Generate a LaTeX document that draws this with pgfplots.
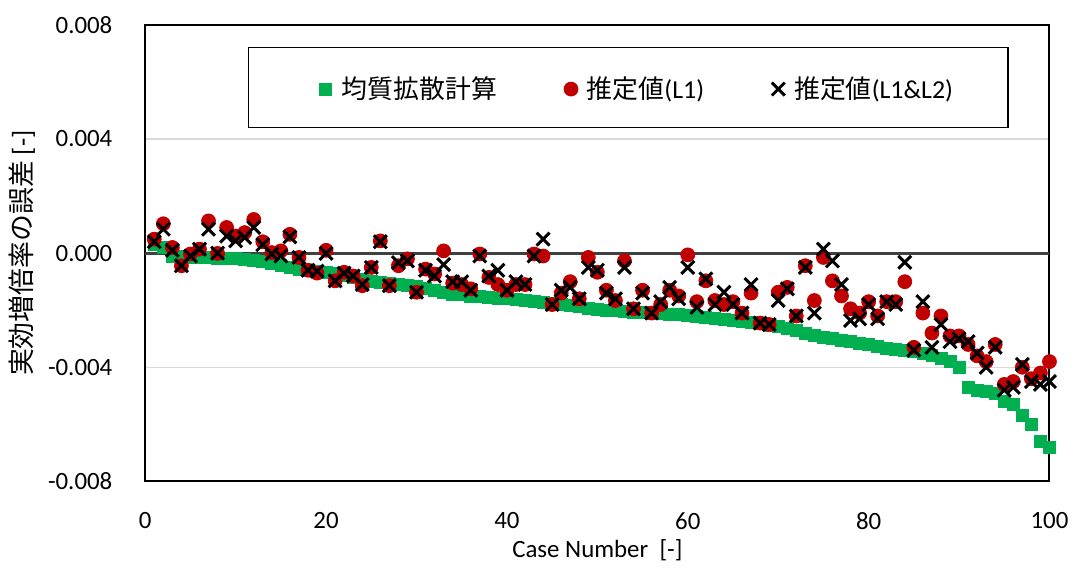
\documentclass[border=0pt]{standalone}
\usepackage{fontspec}
\setmainfont{Carlito}
\newfontfamily\cjk{Noto Sans CJK JP}
\usepackage{pgfplots}
\usepackage{pgfplotstable}
\pgfplotsset{compat=1.18}

\definecolor{homgreen}{HTML}{00B050}
\definecolor{estred}{HTML}{C00000}
\definecolor{gridgray}{HTML}{D9D9D9}
\definecolor{zerogray}{HTML}{404040}

% Case number, homogenised diffusion result, estimate from L1, estimate from L1&L2
\pgfplotstableread{
n hom l1 l12
1 0.00030 0.00049 0.00040
2 0.00020 0.00103 0.00084
3 -0.00010 0.00020 0.00010
4 -0.00012 -0.00044 -0.00044
5 -0.00014 -0.00003 -0.00010
6 -0.00015 0.00014 0.00014
7 -0.00016 0.00113 0.00084
8 -0.00018 -0.00001 0.00000
9 -0.00019 0.00090 0.00060
10 -0.00020 0.00060 0.00043
11 -0.00022 0.00072 0.00055
12 -0.00025 0.00118 0.00090
13 -0.00030 0.00040 0.00030
14 -0.00035 0.00002 -0.00003
15 -0.00042 0.00008 -0.00010
16 -0.00050 0.00066 0.00057
17 -0.00056 -0.00015 -0.00015
18 -0.00060 -0.00060 -0.00060
19 -0.00064 -0.00070 -0.00063
20 -0.00068 0.00010 -0.00001
21 -0.00072 -0.00097 -0.00097
22 -0.00078 -0.00067 -0.00070
23 -0.00085 -0.00080 -0.00080
24 -0.00092 -0.00114 -0.00110
25 -0.00098 -0.00050 -0.00050
26 -0.00102 0.00043 0.00040
27 -0.00106 -0.00114 -0.00114
28 -0.00110 -0.00044 -0.00033
29 -0.00114 -0.00020 -0.00027
30 -0.00118 -0.00137 -0.00137
31 -0.00125 -0.00056 -0.00060
32 -0.00132 -0.00073 -0.00080
33 -0.00138 0.00008 -0.00040
34 -0.00143 -0.00105 -0.00100
35 -0.00146 -0.00110 -0.00100
36 -0.00150 -0.00125 -0.00130
37 -0.00153 -0.00003 -0.00010
38 -0.00156 -0.00085 -0.00080
39 -0.00158 -0.00110 -0.00060
40 -0.00160 -0.00130 -0.00130
41 -0.00163 -0.00110 -0.00100
42 -0.00167 -0.00110 -0.00110
43 -0.00170 -0.00003 -0.00010
44 -0.00173 -0.00010 0.00049
45 -0.00176 -0.00180 -0.00180
46 -0.00180 -0.00140 -0.00130
47 -0.00184 -0.00100 -0.00120
48 -0.00188 -0.00160 -0.00160
49 -0.00192 -0.00015 -0.00050
50 -0.00196 -0.00067 -0.00060
51 -0.00200 -0.00130 -0.00140
52 -0.00202 -0.00166 -0.00160
53 -0.00204 -0.00027 -0.00050
54 -0.00206 -0.00195 -0.00195
55 -0.00208 -0.00130 -0.00140
56 -0.00210 -0.00210 -0.00210
57 -0.00212 -0.00180 -0.00170
58 -0.00214 -0.00130 -0.00120
59 -0.00216 -0.00150 -0.00160
60 -0.00218 -0.00006 -0.00050
61 -0.00221 -0.00170 -0.00190
62 -0.00224 -0.00097 -0.00090
63 -0.00228 -0.00166 -0.00180
64 -0.00232 -0.00180 -0.00137
65 -0.00236 -0.00170 -0.00180
66 -0.00240 -0.00210 -0.00210
67 -0.00244 -0.00140 -0.00110
68 -0.00248 -0.00245 -0.00245
69 -0.00252 -0.00250 -0.00250
70 -0.00258 -0.00137 -0.00166
71 -0.00265 -0.00120 -0.00125
72 -0.00272 -0.00220 -0.00220
73 -0.00280 -0.00044 -0.00050
74 -0.00288 -0.00166 -0.00210
75 -0.00295 -0.00015 0.00014
76 -0.00300 -0.00097 -0.00027
77 -0.00305 -0.00150 -0.00110
78 -0.00310 -0.00195 -0.00236
79 -0.00316 -0.00210 -0.00230
80 -0.00320 -0.00170 -0.00180
81 -0.00328 -0.00220 -0.00230
82 -0.00333 -0.00170 -0.00170
83 -0.00337 -0.00170 -0.00180
84 -0.00340 -0.00100 -0.00032
85 -0.00346 -0.00330 -0.00340
86 -0.00350 -0.00210 -0.00170
87 -0.00358 -0.00280 -0.00330
88 -0.00370 -0.00220 -0.00250
89 -0.00380 -0.00290 -0.00310
90 -0.00400 -0.00290 -0.00300
91 -0.00470 -0.00320 -0.00310
92 -0.00480 -0.00360 -0.00350
93 -0.00485 -0.00380 -0.00400
94 -0.00490 -0.00320 -0.00330
95 -0.00520 -0.00460 -0.00480
96 -0.00530 -0.00450 -0.00470
97 -0.00570 -0.00400 -0.00390
98 -0.00600 -0.00440 -0.00450
99 -0.00660 -0.00420 -0.00460
100 -0.00680 -0.00380 -0.00450
}\errortable

\begin{document}
\begin{tikzpicture}
\begin{axis}[
  scale only axis,
  width=454.5pt, height=229.5pt,
  xmin=0, xmax=100, ymin=-0.008, ymax=0.008,
  xtick={0,20,...,100},
  ytick={-0.008,-0.004,0,0.004,0.008},
  scaled y ticks=false,
  /pgf/number format/assume math mode=true,
  yticklabel style={/pgf/number format/fixed,
    /pgf/number format/fixed zerofill,
    /pgf/number format/precision=3, xshift=-13pt},
  xticklabel style={yshift=-12pt},
  tick label style={font=\fontsize{12.5}{15}\selectfont, text=black},
  major tick length=0pt,
  ymajorgrids,
  grid style={draw=gridgray, line width=0.6pt},
  axis line style={line width=1pt, black},
  xlabel={Case Number\ \ [-]},
  xlabel style={at={(axis description cs:0.5,-0.150)}, anchor=center,
    font=\fontsize{12.5}{15}\selectfont},
  ylabel={{\cjk 実効増倍率の誤差} [-]},
  ylabel style={at={(axis description cs:-0.1364,0.5)}, anchor=center,
    rotate=0, font=\fontsize{13.5}{16}\selectfont},
  legend columns=3,
  legend style={at={(axis cs:18.33,0.00575)}, anchor=west,
    draw=none, fill=none,
    font=\fontsize{13}{16}\selectfont,
    /tikz/every even column/.append style={column sep=31pt}},
  legend image code/.code={%
    \path[draw=none, fill=none] (0cm,0cm) -- (0.36cm,0cm);
    \draw[mark repeat=2,mark phase=2,#1]
      plot coordinates {(0cm,0cm)(0.15cm,0cm)(0.36cm,0cm)};},
]
  % zero reference line
  \draw[zerogray, line width=1.6pt] (axis cs:0,0) -- (axis cs:100,0);
  % legend frame
  \draw[black, line width=0.8pt, fill=white]
    (axis cs:11.44,0.00441) rectangle (axis cs:95.4,0.0072);

  \addplot[only marks, mark=square*, mark size=3pt,
    mark options={draw=homgreen, fill=homgreen}]
    table[x=n, y=hom] {\errortable};
  \addlegendentry{\cjk 均質拡散計算}

  \addplot[only marks, mark=*, mark size=3.5pt,
    mark options={draw=estred, fill=estred}]
    table[x=n, y=l1] {\errortable};
  \addlegendentry{{\cjk 推定値}(L1)}

  \addplot[only marks, mark=x, mark size=4.6pt,
    mark options={draw=black, line width=1.5pt}]
    table[x=n, y=l12] {\errortable};
  \addlegendentry{{\cjk 推定値}(L1\&L2)}
\end{axis}
\path ([shift={(-73pt,-41.5pt)}]current axis.south west)
  rectangle ([shift={(10pt,12.5pt)}]current axis.north east);
\end{tikzpicture}
\end{document}
